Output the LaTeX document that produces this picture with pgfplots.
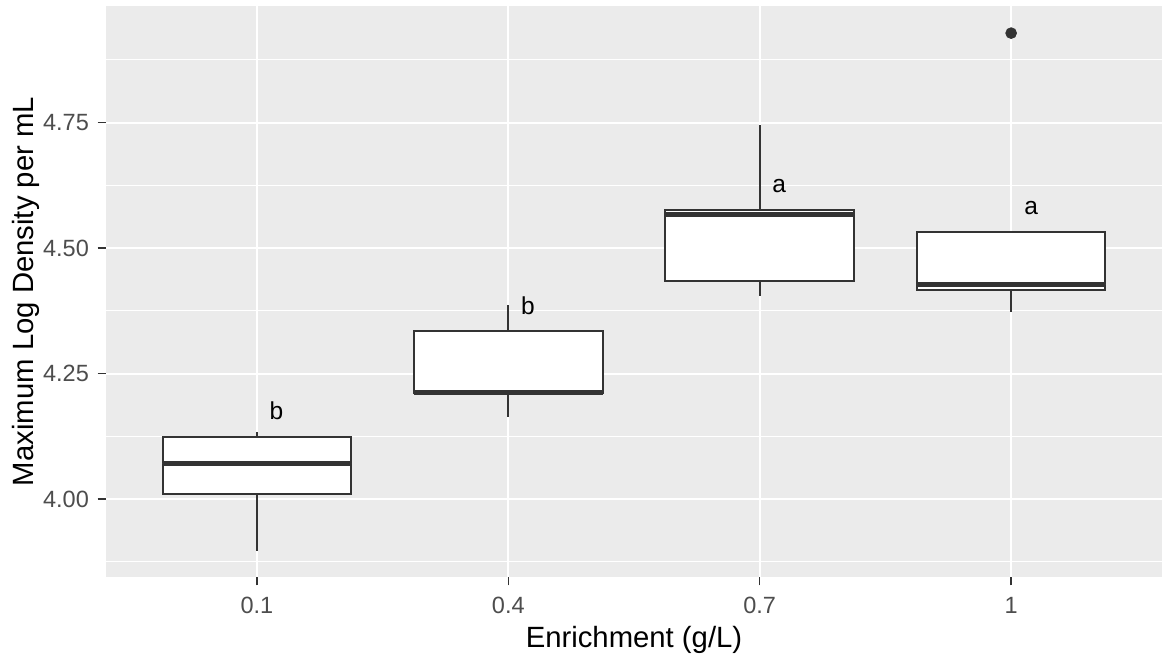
\documentclass[border=0pt]{standalone}
\usepackage{pgfplots}
\pgfplotsset{compat=1.18}
\usepgfplotslibrary{statistics}
\usepackage{fontspec}
\setmainfont{Liberation Sans}
\definecolor{panelbg}{HTML}{EBEBEB}
\definecolor{gtwenty}{HTML}{333333}
\definecolor{gthirty}{HTML}{4D4D4D}
\begin{document}
\begin{tikzpicture}
\useasboundingbox (-53bp,-42bp) rectangle (529.5bp,288.5bp);
\begin{axis}[
  at={(0,0)}, anchor=south west,
  scale only axis, width=528bp, height=285.5bp,
  xmin=0.4, xmax=4.6, ymin=3.845, ymax=4.982,
  axis background/.style={fill=panelbg},
  axis line style={draw=none},
  xtick={1,2,3,4}, xticklabels={0.1,0.4,0.7,1},
  ytick={4,4.25,4.5,4.75}, yticklabels={4.00,4.25,4.50,4.75},
  minor ytick={3.875,4.125,4.375,4.625,4.875},
  grid=both,
  major grid style={white, line width=1.0bp},
  minor grid style={white, line width=0.5bp},
  minor tick length=0pt,
  major tick length=4.2bp,
  tick align=outside,
  tick pos=left,
  tick style={gtwenty, line width=0.7bp},
  ticklabel style={font=\fontsize{11.8}{13}\selectfont, text=gthirty, inner sep=0pt},
  xticklabel style={anchor=north, yshift=-5.8bp},
  yticklabel style={anchor=east, xshift=-4.15bp},
  boxplot/draw direction=y,
  boxplot/box extend=0.75,
  boxplot/whisker extend=0,
  boxplot/every median/.style={line width=2.3bp},
  clip=false,
]
\addplot[boxplot prepared={draw position=1, lower whisker=3.896, lower quartile=4.011, median=4.071, upper quartile=4.123, upper whisker=4.134}, draw=gtwenty, fill=white, line width=1.0bp, mark=none] coordinates {};
\addplot[boxplot prepared={draw position=2, lower whisker=4.164, lower quartile=4.212, median=4.212, upper quartile=4.335, upper whisker=4.386}, draw=gtwenty, fill=white, line width=1.0bp, mark=none] coordinates {};
\addplot[boxplot prepared={draw position=3, lower whisker=4.404, lower quartile=4.435, median=4.567, upper quartile=4.575, upper whisker=4.745}, draw=gtwenty, fill=white, line width=1.0bp, mark=none] coordinates {};
\addplot[boxplot prepared={draw position=4, lower whisker=4.372, lower quartile=4.416, median=4.427, upper quartile=4.531, upper whisker=4.531}, draw=gtwenty, fill=white, line width=1.0bp, mark=none] coordinates {};
\addplot[only marks, mark=*, mark size=2.7bp, gtwenty] coordinates {(4,4.928)};
\node[font=\fontsize{12.3}{14}\selectfont] at (axis cs:1.078,4.176) {b};
\node[font=\fontsize{12.3}{14}\selectfont] at (axis cs:2.078,4.386) {b};
\node[font=\fontsize{12.3}{14}\selectfont] at (axis cs:3.077,4.6235) {a};
\node[font=\fontsize{12.3}{14}\selectfont] at (axis cs:4.08,4.579) {a};
\end{axis}
\node[anchor=base, font=\fontsize{14.7}{16}\selectfont] at (264bp,-35.3bp) {Enrichment (g/L)};
\node[rotate=90, anchor=base, font=\fontsize{14.7}{16}\selectfont] at (-36.3bp,142.75bp) {Maximum Log Density per mL};
\end{tikzpicture}
\end{document}
